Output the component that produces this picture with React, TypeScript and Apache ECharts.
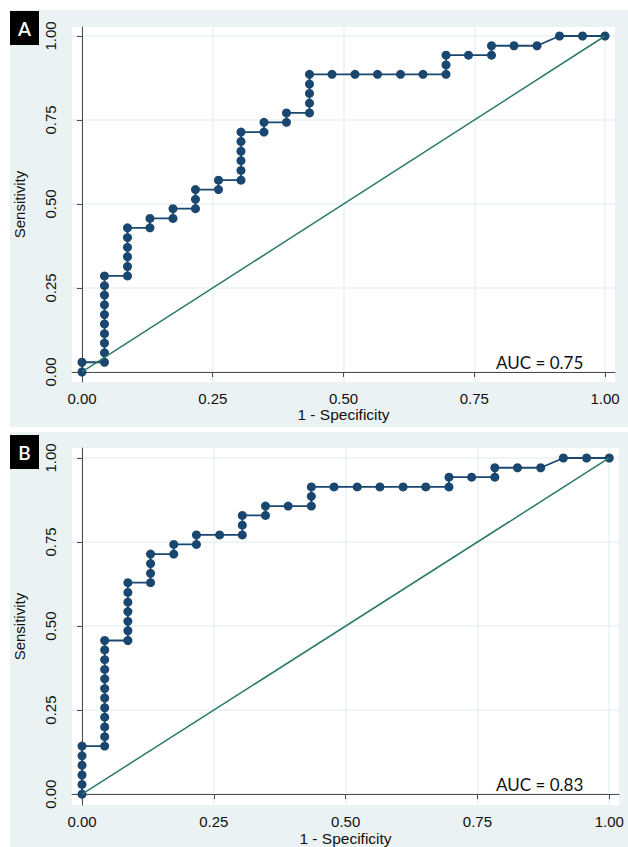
import React, { useEffect, useRef } from "react";
import * as echarts from "echarts";

// Panel A: ROC points (1 - specificity, sensitivity)
const fprA = [
  0, 0,
  0.043, 0.043, 0.043, 0.043, 0.043, 0.043, 0.043, 0.043, 0.043, 0.043,
  0.087, 0.087, 0.087, 0.087, 0.087, 0.087,
  0.13, 0.13,
  0.174, 0.174,
  0.217, 0.217, 0.217,
  0.261, 0.261,
  0.304, 0.304, 0.304, 0.304, 0.304, 0.304,
  0.348, 0.348,
  0.391, 0.391,
  0.435, 0.435, 0.435, 0.435, 0.435,
  0.478, 0.522, 0.565, 0.609, 0.652, 0.696, 0.696, 0.696,
  0.739, 0.783, 0.783,
  0.826, 0.87, 0.913, 0.957, 1,
];
const sensA = [
  0, 0.029,
  0.029, 0.057, 0.086, 0.114, 0.143, 0.171, 0.2, 0.229, 0.257, 0.286,
  0.286, 0.314, 0.343, 0.371, 0.4, 0.429,
  0.429, 0.457,
  0.457, 0.486,
  0.486, 0.514, 0.543,
  0.543, 0.571,
  0.571, 0.6, 0.629, 0.657, 0.686, 0.714,
  0.714, 0.743,
  0.743, 0.771,
  0.771, 0.8, 0.829, 0.857, 0.886,
  0.886, 0.886, 0.886, 0.886, 0.886, 0.886, 0.914, 0.943,
  0.943, 0.943, 0.971,
  0.971, 0.971, 1, 1, 1,
];

// Panel B: ROC points
const fprB = [
  0, 0, 0, 0, 0, 0,
  0.043, 0.043, 0.043, 0.043, 0.043, 0.043, 0.043, 0.043, 0.043, 0.043, 0.043, 0.043,
  0.087, 0.087, 0.087, 0.087, 0.087, 0.087, 0.087,
  0.13, 0.13, 0.13, 0.13,
  0.174, 0.174,
  0.217, 0.217,
  0.261,
  0.304, 0.304, 0.304,
  0.348, 0.348,
  0.391,
  0.435, 0.435, 0.435,
  0.478, 0.522, 0.565, 0.609, 0.652, 0.696, 0.696,
  0.739, 0.783, 0.783,
  0.826, 0.87, 0.913, 0.957, 1,
];
const sensB = [
  0, 0.029, 0.057, 0.086, 0.114, 0.143,
  0.143, 0.171, 0.2, 0.229, 0.257, 0.286, 0.314, 0.343, 0.371, 0.4, 0.429, 0.457,
  0.457, 0.486, 0.514, 0.543, 0.571, 0.6, 0.629,
  0.629, 0.657, 0.686, 0.714,
  0.714, 0.743,
  0.743, 0.771,
  0.771,
  0.771, 0.8, 0.829,
  0.829, 0.857,
  0.857,
  0.857, 0.886, 0.914,
  0.914, 0.914, 0.914, 0.914, 0.914, 0.914, 0.943,
  0.943, 0.943, 0.971,
  0.971, 0.971, 1, 1, 1,
];

const refX = [0, 1];
const refY = [0, 1];
const tickValues = [0, 0.25, 0.5, 0.75, 1];
const panelLetters = ["A", "B"];
const aucLabels = ["AUC = 0.75", "AUC = 0.83"];
const xTitle = "1 - Specificity";
const yTitle = "Sensitivity";

const NAVY = "#1a476f";
const GREEN = "#2b7a67";
const BG = "#eaf2f3";
const AXIS = "#4a4a4a";
const FONT = "'Liberation Sans', Arial, sans-serif";

function zip(xs: number[], ys: number[]) {
  return xs.map((x, i) => [x, ys[i]]);
}

export default function App() {
  const ref = useRef<HTMLDivElement>(null);
  useEffect(() => {
    if (!ref.current) return;
    const chart = echarts.init(ref.current, null, { renderer: "svg" });

    const grids = [
      { left: 72, top: 27, width: 543, height: 355 },
      { left: 72, top: 448, width: 547, height: 358 },
    ];
    const xRanges = [
      [-0.0191, 1.0191],
      [-0.019, 1.0185],
    ];
    const yRanges = [
      [-0.0298, 1.0268],
      [-0.0326, 1.0297],
    ];

    const xAxes = grids.map((_, i) => ({
      type: "value",
      gridIndex: i,
      min: xRanges[i][0],
      max: xRanges[i][1],
      name: xTitle,
      nameLocation: "middle",
      nameGap: 24,
      nameTextStyle: { fontFamily: FONT, fontSize: 15.5, color: "#111" },
      axisLine: { show: true, lineStyle: { color: AXIS, width: 1 } },
      axisTick: { show: true, length: 5, lineStyle: { color: AXIS }, customValues: tickValues },
      axisLabel: {
        customValues: tickValues,
        formatter: (v: number) => v.toFixed(2),
        fontFamily: FONT,
        fontSize: 15,
        color: "#111",
        margin: 9,
      },
      splitLine: { show: true, lineStyle: { color: BG, width: 1.5 } },
    }));

    const yAxes = grids.map((_, i) => ({
      type: "value",
      gridIndex: i,
      min: yRanges[i][0],
      max: yRanges[i][1],
      name: yTitle,
      nameLocation: "middle",
      nameGap: 45,
      nameRotate: 90,
      nameTextStyle: { fontFamily: FONT, fontSize: 15, color: "#111" },
      axisLine: { show: true, lineStyle: { color: AXIS, width: 1 } },
      axisTick: { show: true, length: 5, lineStyle: { color: AXIS }, customValues: tickValues },
      axisLabel: {
        customValues: tickValues,
        formatter: (v: number) => v.toFixed(2),
        rotate: 90,
        fontFamily: FONT,
        fontSize: 15,
        color: "#111",
        margin: 14,
      },
      splitLine: { show: true, lineStyle: { color: BG, width: 1.5 } },
    }));

    const rocData = [zip(fprA, sensA), zip(fprB, sensB)];
    const series: any[] = [];
    rocData.forEach((d, i) => {
      series.push({
        type: "line",
        xAxisIndex: i,
        yAxisIndex: i,
        data: d,
        symbol: "circle",
        symbolSize: 9,
        showSymbol: true,
        itemStyle: { color: NAVY },
        lineStyle: { color: NAVY, width: 1.8 },
        z: 2,
      });
      series.push({
        type: "line",
        xAxisIndex: i,
        yAxisIndex: i,
        data: zip(refX, refY),
        symbol: "none",
        lineStyle: { color: GREEN, width: 1.5 },
        z: 3,
      });
    });

    const panels = [
      { top: 10, height: 417, boxTop: 11, aucY: 362 },
      { top: 432, height: 415, boxTop: 435, aucY: 784 },
    ];
    const graphic: any[] = [];
    panels.forEach((p, i) => {
      graphic.push({
        type: "rect",
        z: -100,
        shape: { x: 10, y: p.top, width: 618, height: p.height },
        style: { fill: BG },
        silent: true,
      });
      graphic.push({
        type: "rect",
        z: 100,
        shape: { x: 10, y: p.boxTop, width: 29, height: 34 },
        style: { fill: "#000" },
      });
      graphic.push({
        type: "text",
        z: 101,
        x: 24.5,
        y: p.boxTop + 17,
        style: {
          text: panelLetters[i],
          fill: "#fff",
          font: "600 19px Lato, 'Open Sans', sans-serif",
          align: "center",
          verticalAlign: "middle",
        },
      });
      graphic.push({
        type: "text",
        z: 101,
        x: 496,
        y: p.aucY,
        style: {
          text: aucLabels[i],
          fill: "#111",
          font: "17px Lato, 'Open Sans', sans-serif",
          align: "left",
          verticalAlign: "middle",
        },
      });
    });

    chart.setOption({
      animation: false,
      backgroundColor: "#ffffff",
      grid: grids.map((g) => ({
        ...g,
        show: true,
        backgroundColor: "#ffffff",
        borderWidth: 0,
        z: 0,
      })),
      xAxis: xAxes,
      yAxis: yAxes,
      series,
      graphic,
    });
    return () => chart.dispose();
  }, []);

  return (
    <div
      ref={ref}
      style={{ position: "absolute", left: 0, top: 0, width: 628, height: 847 }}
    />
  );
}
